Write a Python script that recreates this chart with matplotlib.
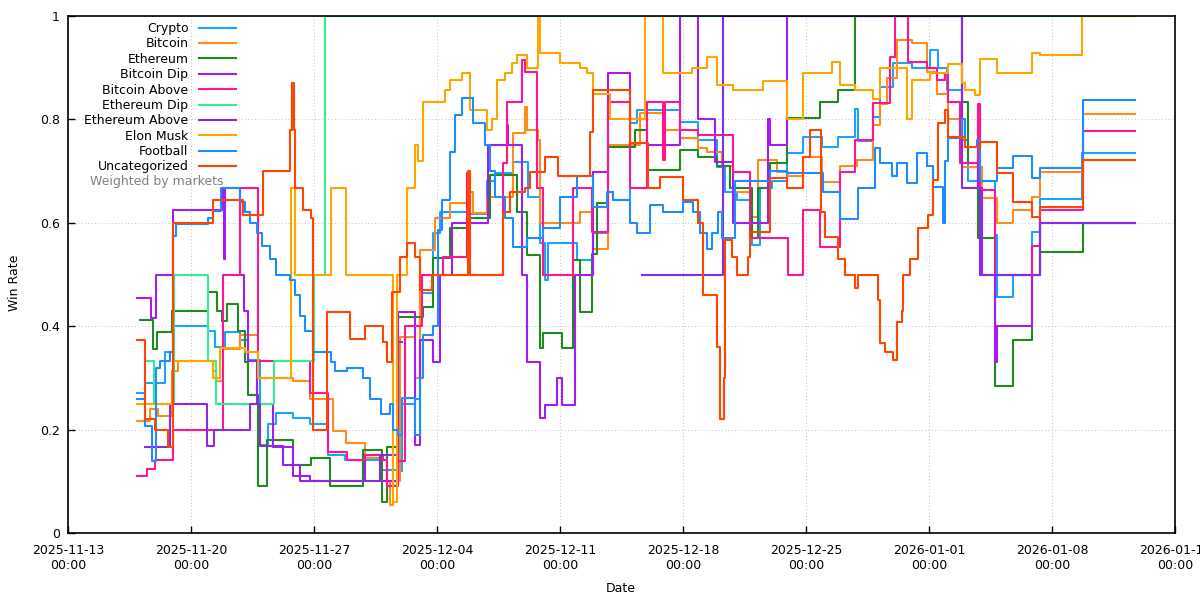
import numpy as np
import pandas as pd
import matplotlib
matplotlib.use('Agg')
import matplotlib.pyplot as plt
import matplotlib.dates as mdates

plt.rc('font', family='DejaVu Sans', size=9)

START = pd.Timestamp('2025-11-13')
nan = np.nan

# days since START, win rate
crypto_t = [3.93, 4.38, 5.52, 5.98, 7.97, 8.37, 8.93, 9.79, 10.24, 10.93, 11.38, 11.84, 12.80, 13.77, 14.80, 15.76,
            17.81, 18.78, 19.01, 19.75, 20.03, 20.77, 21.17, 22.88, 23.85, 24.30, 25.33, 26.18, 26.86, 27.15, 27.32,
            28.97, 29.88, 30.73, 31.02, 31.98, 32.38, 34.83, 35.85, 36.93, 37.39, 38.07, 38.93, 39.38, 40.07, 40.92,
            41.83, 42.91, 43.82, 44.79, 44.96, 45.82, 46.21, 46.95, 48.03, 49.06, 49.51, 50.02, 50.88, 51.22, 52.76,
            52.87, 53.78, 54.86, 55.32, 57.71, 60.72]
crypto_v = [0.27, 0.29, 0.35, 0.40, 0.39, 0.36, 0.388, 0.374, 0.335, 0.17, 0.21, 0.232, 0.222, 0.21, 0.15, 0.142,
            0.122, 0.12, 0.25, 0.26, 0.464, 0.58, 0.62, 0.617, 0.68, 0.696, 0.718, 0.65, 0.56, 0.49, 0.56,
            0.528, 0.58, 0.66, 0.644, 0.793, 0.818, 0.795, 0.76, 0.708, 0.66, 0.644, 0.557, 0.667, 0.68, 0.735,
            0.766, 0.747, 0.766, 0.82, 0.758, 0.805, 0.862, 0.909, 0.90, 0.934, 0.90, 0.857, 0.76, 0.68, 0.576,
            0.457, 0.50, 0.582, 0.646, 0.735, 0.735]

bitcoin_t = [3.93, 4.67, 5.12, 5.92, 6.26, 8.25, 8.42, 8.82, 9.79, 10.81, 12.80, 13.77, 15.08, 15.82, 16.90, 17.81,
             18.33, 18.50, 18.78, 18.89, 19.75, 20.03, 20.89, 21.74, 22.71, 23.05, 23.85, 25.33, 26.01, 26.12, 26.75,
             26.86, 29.14, 29.88, 30.73, 32.55, 33.86, 34.83, 35.85, 36.37, 37.22, 37.84, 38.81, 39.27, 40.35, 40.98,
             41.83, 42.91, 43.94, 44.91, 45.82, 46.21, 46.61, 47.18, 48.03, 48.89, 49.46, 50.08, 50.88, 52.02, 52.87,
             53.78, 54.86, 55.32, 57.76, 60.72]
bitcoin_v = [0.216, 0.24, 0.226, 0.313, 0.332, 0.313, 0.294, 0.356, 0.383, 0.30, 0.294, 0.26, 0.197, 0.174, 0.145, 0.10,
             0.055, 0.10, 0.10, 0.38, 0.30, 0.547, 0.61, 0.638, 0.66, 0.619, 0.65, 0.774, 0.824, 0.78, 0.76,
             0.60, 0.62, 0.55, 0.75, 0.812, 0.78, 0.764, 0.745, 0.737, 0.71, 0.66, 0.611, 0.722, 0.698, 0.69,
             0.727, 0.679, 0.71, 0.721, 0.789, 0.83, 0.88, 0.953, 0.947, 0.892, 0.85, 0.80, 0.708, 0.648, 0.60,
             0.625, 0.65, 0.698, 0.81, 0.81]

ethereum_t = [4.10, 4.84, 5.07, 5.92, 7.97, 8.48, 8.76, 9.05, 9.67, 10.07, 10.24, 10.81, 11.33, 12.80, 13.83, 14.91,
              16.79, 17.87, 18.15, 18.78, 20.20, 20.77, 21.74, 22.88, 24.02, 25.55, 26.12, 26.86, 27.03, 28.11, 28.74,
              29.14, 29.82, 30.11, 30.73, 32.27, 32.95, 34.83, 35.85, 36.93, 37.68, 38.93, 39.27, 39.95, 40.92, 42.80,
              43.82, 44.79, 50.88, 51.22, 51.79, 52.76, 53.78, 54.86, 55.32, 57.76, 60.72]
ethereum_v = [0.412, 0.355, 0.389, 0.43, 0.466, 0.43, 0.41, 0.443, 0.39, 0.33, 0.267, 0.09, 0.18, 0.132, 0.145, 0.09,
              0.16, 0.06, 0.166, 0.418, 0.437, 0.532, 0.59, 0.61, 0.692, 0.62, 0.537, 0.357, 0.386, 0.357, 0.528,
              0.427, 0.54, 0.638, 0.747, 0.78, 0.702, 0.74, 0.727, 0.71, 0.667, 0.571, 0.667, 0.716, 0.802, 0.834,
              0.857, 1.0, 0.834, 0.716, 0.571, 0.284, 0.373, 0.50, 0.544, 0.60, 0.60]

btc_dip_t = [3.93, 4.72, 5.01, 5.98, 8.76, 8.88, 8.93, 9.79, 10.02, 10.24, 10.76, 11.67, 12.80, 13.77, 16.90, 17.76,
             18.78, 19.75, 20.03, 20.77, 21.17, 21.85, 23.85, 23.90, 24.98, 25.04, 25.84, 26.12, 26.86, 27.15, 27.83,
             28.11, 28.85, 29.88, 30.73, 31.98, 32.95, 34.83, 35.85, 36.82, 37.84, 39.84, 39.95, 40.92, 50.88, 51.79,
             52.02, 52.76, 52.87, 54.86, 55.32, 60.72]
btc_dip_v = [0.455, 0.416, 0.50, 0.625, 0.667, 0.53, 0.667, 0.50, 0.43, 0.333, 0.25, 0.167, 0.11, 0.10, 0.15, 0.10,
             0.427, 0.17, 0.373, 0.33, 0.50, 0.60, 0.60, 0.75, 0.79, 0.75, 0.50, 0.33, 0.222, 0.248, 0.30,
             0.248, 0.50, 0.698, 0.89, 0.80, 0.75, 1.0, 0.80, 0.717, 0.60, 0.80, 0.75, 1.0, 0.716, 0.667,
             0.50, 0.33, 0.40, 0.50, 0.60, 0.60]

btc_above_t = [3.93, 4.50, 4.95, 5.98, 8.82, 9.79, 10.81, 13.77, 14.80, 15.88, 16.90, 17.93, 18.15, 18.78, 19.18, 20.15,
               21.34, 22.71, 22.88, 24.76, 24.98, 25.84, 26.01, 26.69, 27.03, 28.74, 29.82, 30.73, 31.98, 32.95, 33.86,
               33.98, 34.83, 35.85, 37.84, 38.81, 40.98, 41.83, 42.80, 43.94, 44.79, 45.82, 46.78, 47.07, 47.81, 48.89,
               49.46, 49.91, 50.08, 50.77, 51.79, 51.90, 52.76, 54.86, 55.32, 57.76, 60.72]
btc_above_v = [0.11, 0.124, 0.142, 0.20, 0.50, 0.667, 0.333, 0.27, 0.157, 0.141, 0.15, 0.141, 0.09, 0.14, 0.40, 0.50,
               0.534, 0.696, 0.50, 0.716, 0.834, 0.915, 0.892, 0.667, 0.50, 0.667, 0.582, 0.834, 0.667, 0.834, 0.721,
               0.834, 0.78, 0.77, 0.698, 0.571, 0.50, 0.625, 0.554, 0.698, 0.76, 0.832, 0.92, 1.0, 0.911, 0.90,
               0.876, 0.89, 0.834, 0.716, 0.83, 0.664, 0.50, 0.555, 0.625, 0.777, 0.777]

eth_dip_t = [4.36, 4.91, 6.05, 7.94, 8.41, 11.72, 13.99, 14.65, 60.72]
eth_dip_v = [0.333, 0.25, 0.50, 0.333, 0.25, 0.333, 0.50, 1.0, 1.0]

eth_above_t = [4.38, 5.81, 7.80, 7.91, 8.31, 10.36, 10.93, 12.24, 13.20, 16.79, 17.76, 18.78, 19.01, 32.66, 37.28,
               50.88, 51.90, 55.32, 60.72]
eth_above_v = [0.166, 0.25, 0.25, 0.168, 0.20, 0.25, 0.168, 0.132, 0.10, 0.10, 0.15, 0.37, nan, 0.50, 1.0,
               0.667, 0.50, 0.60, 0.60]

elon_t = [3.93, 5.98, 8.25, 8.65, 10.07, 10.81, 12.69, 12.92, 14.97, 15.82, 18.50, 18.72, 19.29, 19.75, 19.92, 20.20,
          21.46, 21.74, 22.42, 22.88, 23.85, 24.13, 24.41, 24.87, 25.27, 25.55, 26.12, 26.75, 26.86, 28.00, 29.14,
          29.54, 29.88, 30.85, 32.84, 33.86, 35.51, 36.37, 36.93, 37.84, 39.55, 40.92, 41.83, 43.48, 43.94, 44.79,
          45.82, 46.21, 47.75, 48.03, 49.06, 50.08, 50.88, 51.05, 51.62, 51.90, 52.87, 54.86, 55.32, 57.71, 60.72]
elon_v = [0.25, 0.333, 0.30, 0.357, 0.35, 0.30, 0.667, 0.50, 0.667, 0.50, 0.06, 0.50, 0.667, 0.75, 0.72, 0.834,
          0.857, 0.876, 0.89, 0.818, 0.78, 0.80, 0.876, 0.89, 0.909, 0.925, 0.90, 1.0, 0.928, 0.91, 0.90,
          0.89, 0.85, 0.80, 1.0, 0.89, 0.90, 0.92, 0.867, 0.857, 0.874, 0.80, 0.89, 0.911, 0.867, 0.857,
          0.84, 0.90, 0.80, 0.876, 0.89, 0.908, 0.87, 0.857, 0.847, 0.917, 0.89, 0.928, 0.925, 1.0, 1.0]

football_t = [3.93, 4.38, 4.78, 5.01, 5.24, 5.81, 5.98, 6.15, 7.97, 8.25, 8.71, 9.79, 10.07, 10.36, 10.76, 11.04,
              11.50, 11.84, 12.63, 12.92, 13.20, 13.49, 13.94, 14.97, 15.19, 15.88, 16.79, 17.19, 17.81, 18.33, 18.50,
              18.78, 19.01, 19.75, 20.03, 20.20, 20.77, 21.06, 21.28, 21.74, 22.02, 22.42, 23.05, 23.73, 24.02, 24.30,
              24.87, 25.33, 26.12, 27.03, 28.00, 28.97, 29.88, 30.67, 31.02, 31.98, 32.38, 33.12, 33.86, 35.00, 35.57,
              35.97, 36.37, 36.65, 36.99, 37.22, 37.96, 38.98, 39.95, 40.92, 42.97, 43.94, 44.96, 45.93, 46.21, 46.90,
              47.18, 47.75, 48.32, 48.89, 49.23, 49.80, 49.91, 50.08, 50.88, 51.05, 51.73, 51.90, 52.87, 53.78, 54.86,
              55.32, 57.76, 60.72]
football_v = [0.26, 0.206, 0.14, 0.32, 0.332, 0.35, 0.574, 0.597, 0.61, 0.623, 0.668, 0.64, 0.62, 0.60, 0.58, 0.555,
              0.53, 0.50, 0.49, 0.46, 0.42, 0.39, 0.35, 0.33, 0.313, 0.32, 0.30, 0.26, 0.23, 0.25, 0.20,
              0.19, 0.261, 0.19, 0.30, 0.383, 0.40, 0.586, 0.644, 0.737, 0.808, 0.841, 0.793, 0.75, 0.70, 0.65,
              0.61, 0.553, 0.571, 0.59, 0.65, 0.69, 0.63, 0.66, 0.644, 0.60, 0.58, 0.634, 0.62, 0.64, 0.62,
              0.58, 0.55, 0.58, 0.62, 0.571, 0.68, 0.68, 0.70, 0.696, 0.66, 0.607, 0.667, 0.745, 0.716, 0.69,
              0.716, 0.677, 0.735, 0.71, 0.67, 0.60, 0.72, 0.764, 0.80, 0.747, 0.76, 0.68, 0.706, 0.729, 0.687,
              0.706, 0.838, 0.838]

uncat_t = [3.93, 4.38, 4.95, 5.69, 5.98, 8.25, 9.96, 11.10, 12.63, 12.75, 12.86, 12.92, 13.37, 13.83, 13.94, 14.74,
           16.05, 16.90, 17.93, 18.15, 18.44, 18.89, 19.29, 19.75, 20.03, 20.72, 22.76, 22.88, 24.59, 24.76, 25.15,
           26.01, 26.29, 27.15, 27.89, 29.71, 29.88, 31.98, 33.01, 33.69, 35.00, 35.85, 36.14, 36.93, 37.11, 37.33,
           37.39, 37.79, 38.07, 38.70, 38.81, 39.95, 40.92, 41.83, 42.23, 42.85, 43.08, 43.82, 44.22, 44.79, 44.96,
           46.10, 46.21, 46.50, 46.95, 47.18, 47.46, 47.52, 47.92, 48.37, 48.94, 49.23, 49.51, 49.91, 50.08, 51.05,
           51.90, 52.87, 53.78, 54.86, 55.32, 57.76, 60.72]
uncat_v = [0.373, 0.22, 0.20, 0.167, 0.60, 0.644, 0.615, 0.70, 0.78, 0.87, 0.78, 0.667, 0.625, 0.61, 0.20, 0.427,
           0.375, 0.40, 0.37, 0.33, 0.466, 0.534, 0.56, 0.534, 0.47, 0.50, 0.70, 0.50, 0.50, 0.62, 0.66,
           0.667, 0.698, 0.727, 0.69, 0.776, 0.857, 0.754, 0.667, 0.689, 0.644, 0.60, 0.46, 0.36, 0.22, 0.30,
           0.567, 0.534, 0.50, 0.534, 0.582, 0.687, 0.667, 0.727, 0.78, 0.62, 0.573, 0.53, 0.50, 0.474, 0.50,
           0.45, 0.367, 0.35, 0.335, 0.408, 0.43, 0.50, 0.53, 0.59, 0.615, 0.683, 0.793, 0.818, 0.766, 0.747,
           0.756, 0.696, 0.64, 0.611, 0.63, 0.721, 0.721]

series = [
    ('Crypto', crypto_t, crypto_v, '#1aa3ff'),
    ('Bitcoin', bitcoin_t, bitcoin_v, '#ff8c1a'),
    ('Ethereum', ethereum_t, ethereum_v, '#1f8b1f'),
    ('Bitcoin Dip', btc_dip_t, btc_dip_v, '#a41cf4'),
    ('Bitcoin Above', btc_above_t, btc_above_v, '#ff1493'),
    ('Ethereum Dip', eth_dip_t, eth_dip_v, '#2ef08c'),
    ('Ethereum Above', eth_above_t, eth_above_v, '#8a2be2'),
    ('Elon Musk', elon_t, elon_v, '#ffa500'),
    ('Football', football_t, football_v, '#1e8cff'),
    ('Uncategorized', uncat_t, uncat_v, '#ff4500'),
]

fig = plt.figure(figsize=(12, 6), dpi=100)
ax = fig.add_axes([68/1200, 67/600, 1107/1200, 517/600])

for name, t, v, c in series:
    x = START + pd.to_timedelta(np.array(t), unit='D')
    ax.step(x, v, where='post', color=c, lw=1.5, label=name)

ax.set_xlim(START, START + pd.Timedelta(days=63))
ax.set_ylim(0, 1)
ax.set_xticks(pd.date_range('2025-11-13', '2026-01-15', freq='7D'))
ax.xaxis.set_major_formatter(mdates.DateFormatter('%Y-%m-%d\n%H:%M'))
ax.set_yticks([0, 0.2, 0.4, 0.6, 0.8, 1.0])
ax.set_yticklabels(['0', '0.2', '0.4', '0.6', '0.8', '1'])
ax.tick_params(direction='in', length=5, width=1, labelsize=9)
ax.tick_params(axis='x', pad=8)
ax.tick_params(axis='y', pad=6)
ax.grid(True, color='#b0b0b0', lw=0.6, linestyle=(0, (1, 3)))
for s in ax.spines.values():
    s.set_linewidth(1.2)

leg = ax.legend(loc='upper right', bbox_to_anchor=(236/1200, 1 - 22/600), bbox_transform=fig.transFigure,
                markerfirst=False, frameon=False, borderpad=0, borderaxespad=0, handlelength=3.0,
                handletextpad=0.8, labelspacing=0.19, fontsize=9)

fig.text(90/1200, 1 - 182/600, 'Weighted by markets', color='#808080', fontsize=9, ha='left', va='center')
fig.text(15/1200, 1 - 283/600, 'Win Rate', rotation=90, ha='center', va='center', fontsize=9)
fig.text(621/1200, 1 - 588/600, 'Date', ha='center', va='center', fontsize=9)

fig.savefig('out.png', dpi=100)
